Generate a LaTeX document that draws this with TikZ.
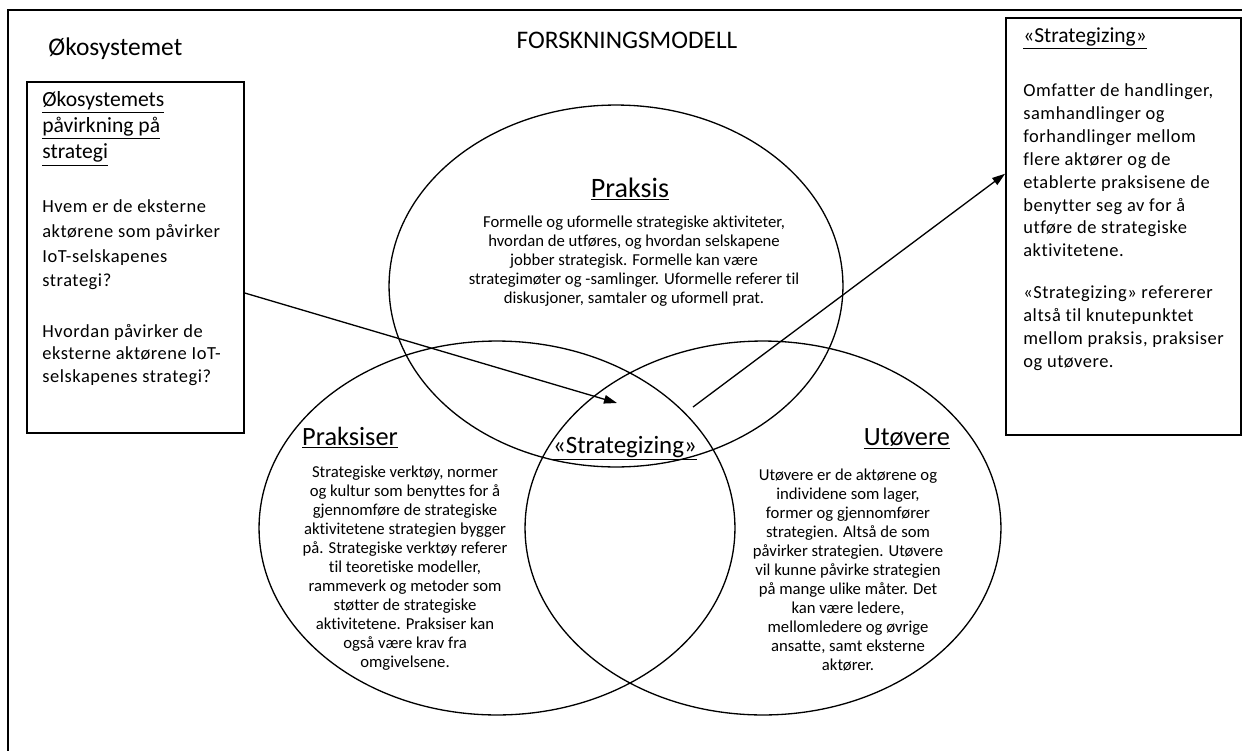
\documentclass[tikz,border=0pt]{standalone}
\usepackage{fontspec}
\setmainfont{Carlito}[Ligatures={NoCommon}]
\newfontfamily\boxfont{Carlito}[Ligatures={NoCommon}, LetterSpace=3]
\usetikzlibrary{shapes.geometric,arrows.meta}

\tikzset{
  frame/.style={line width=1.1pt},
  box/.style={draw, line width=1.1pt, inner sep=0pt},
  venn/.style={draw, ellipse, line width=0.75pt, inner sep=0pt},
  arrowline/.style={-{Triangle[length=0.26cm,width=0.17cm]}, line width=0.75pt},
  heading/.style={anchor=base, inner sep=0pt, font=\fontsize{15}{18}\selectfont},
  bodytext/.style={align=center, inner sep=0pt, font=\fontsize{9.5}{10.8}\selectfont},
  boxtext/.style={align=left, anchor=west, inner sep=0pt, font=\boxfont\fontsize{10.5}{13}\selectfont}
}

\begin{document}
\begin{tikzpicture}[x=0.02cm, y=-0.02cm]
  \useasboundingbox (0,0) rectangle (1242,751);

  % Outer frame
  \draw[frame] (1242,10) -- (8,10) -- (8,751);
  \node[anchor=base west, inner sep=0pt, font=\fontsize{14.5}{17}\selectfont] (okolabel) at (48,55) {Økosystemet};
  \node[anchor=base, inner sep=0pt, font=\fontsize{14.4}{17}\selectfont] (title) at (627,48) {FORSKNINGSMODELL};

  % Venn rings
  \node[venn, minimum width=9.08cm, minimum height=7.24cm] (praksisring) at (616,286) {};
  \node[venn, minimum width=9.52cm, minimum height=7.48cm] (praksiserring) at (497,528) {};
  \node[venn, minimum width=9.52cm, minimum height=7.48cm] (utovererring) at (763,528) {};

  % Praksis
  \node[heading, font=\fontsize{16}{19}\selectfont] (praksis) at (630,197) {\underline{Praksis}};
  \node[bodytext] (praksistext) at (634,261) {Formelle og uformelle strategiske aktiviteter,\\
    hvordan de utføres, og hvordan selskapene\\
    jobber strategisk. Formelle kan være\\
    strategimøter og -samlinger. Uformelle referer til\\
    diskusjoner, samtaler og uformell prat.};

  % Praksiser
  \node[heading] (praksiser) at (350,445) {\underline{Praksiser}};
  \node[bodytext] (praksisertext) at (405,568) {Strategiske verktøy, normer\\
    og kultur som benyttes for å\\
    gjennomføre de strategiske\\
    aktivitetene strategien bygger\\
    på. Strategiske verktøy referer\\
    til teoretiske modeller,\\
    rammeverk og metoder som\\
    støtter de strategiske\\
    aktivitetene. Praksiser kan\\
    også være krav fra\\
    omgivelsene.};

  % Utøvere
  \node[heading] (utovere) at (907,445) {\underline{Utøvere}};
  \node[bodytext] (utoveretext) at (848,570) {Utøvere er de aktørene og\\
    individene som lager,\\
    former og gjennomfører\\
    strategien. Altså de som\\
    påvirker strategien. Utøvere\\
    vil kunne påvirke strategien\\
    på mange ulike måter. Det\\
    kan være ledere,\\
    mellomledere og øvrige\\
    ansatte, samt eksterne\\
    aktører.};

  % Strategizing
  \node[heading, font=\fontsize{14.2}{17}\selectfont] (strategizing) at (625,453) {\underline{«Strategizing»}};

  % Left box
  \node[box, minimum width=4.34cm, minimum height=7.02cm] (okobox) at (135.5,257.5) {};
  \node[boxtext, font=\fontsize{12.3}{15}\selectfont] (okohead) at (42,128.5) {\underline{Økosystemets}\\
    \underline{påvirkning på}\\
    \underline{strategi}};
  \node[boxtext, font=\boxfont\fontsize{10.5}{14}\selectfont] (okoques1) at (42,245) {Hvem er de eksterne\\
    aktørene som påvirker\\
    IoT-selskapenes\\
    strategi?};
  \node[boxtext] (okoques2) at (42,355) {Hvordan påvirker de\\
    eksterne aktørene IoT-\\
    selskapenes strategi?};

  % Right box
  \node[box, minimum width=4.7cm, minimum height=8.34cm] (stratbox) at (1123.5,226.5) {};
  \node[boxtext, anchor=base west, font=\fontsize{12.2}{15}\selectfont] (strathead) at (1023,42) {\underline{«Strategizing»}};
  \node[boxtext] (stratdef1) at (1023,170.5) {Omfatter de handlinger,\\
    samhandlinger og\\
    forhandlinger mellom\\
    flere aktører og de\\
    etablerte praksisene de\\
    benytter seg av for å\\
    utføre de strategiske\\
    aktivitetene.};
  \node[boxtext] (stratdef2) at (1023,328) {«Strategizing» refererer\\
    altså til knutepunktet\\
    mellom praksis, praksiser\\
    og utøvere.};

  % Arrows
  \coordinate (tipA) at (617,403);
  \coordinate (fromstrat) at (693,407);
  \draw[arrowline] (okobox.-18) -- (tipA);
  \draw[arrowline] (fromstrat) -- (stratbox.156);
\end{tikzpicture}
\end{document}
